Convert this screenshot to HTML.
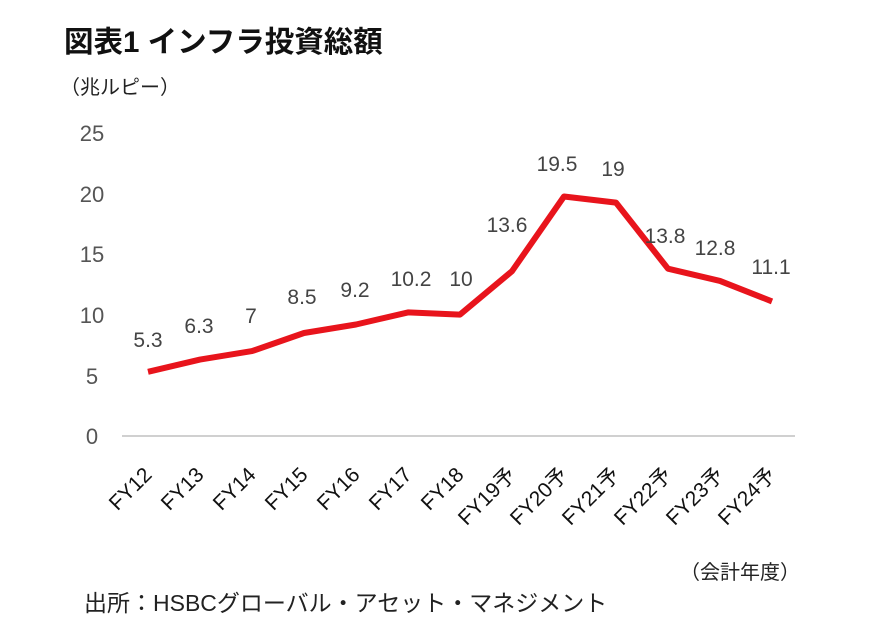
<!DOCTYPE html>
<html><head><meta charset="utf-8"><style>
body{margin:0;background:#fff;}
svg{display:block;}
</style></head><body>
<svg width="870" height="638" xmlns="http://www.w3.org/2000/svg" font-family="Liberation Sans, Noto Sans CJK JP, sans-serif">
<text x="64" y="52" font-size="29.5" font-weight="bold" fill="#111">図表1 インフラ投資総額</text>
<text x="60" y="94" font-size="20" fill="#222">（兆ルピー）</text>
<g font-size="22" fill="#555" text-anchor="middle">
<text x="92" y="141">25</text>
<text x="92" y="202">20</text>
<text x="92" y="262">15</text>
<text x="92" y="323">10</text>
<text x="92" y="384">5</text>
<text x="92" y="444">0</text>
</g>
<line x1="122" y1="436" x2="795" y2="436" stroke="#d0d0d0" stroke-width="2"/>
<polyline fill="none" stroke="#e8141c" stroke-width="6" stroke-linejoin="round"
points="148,371.8 200,359.6 252,351.1 304,333 356,324.5 408,312.4 460,314.6 512,271.2 564,196.5 616,202.6 668,268.7 720,280.9 772,301.4"/>
<g font-size="21" fill="#444" text-anchor="middle">
<text x="148" y="347">5.3</text>
<text x="199" y="333">6.3</text>
<text x="251" y="323">7</text>
<text x="302" y="304">8.5</text>
<text x="355" y="297">9.2</text>
<text x="411" y="286">10.2</text>
<text x="461" y="286">10</text>
<text x="507" y="232">13.6</text>
<text x="557" y="171">19.5</text>
<text x="613" y="176">19</text>
<text x="665" y="243">13.8</text>
<text x="715" y="255">12.8</text>
<text x="771" y="274">11.1</text>
</g>
<g font-size="21" fill="#111" text-anchor="end">
<text transform="translate(153,476) rotate(-45)">FY12</text>
<text transform="translate(205,476) rotate(-45)">FY13</text>
<text transform="translate(257,476) rotate(-45)">FY14</text>
<text transform="translate(309,476) rotate(-45)">FY15</text>
<text transform="translate(361,476) rotate(-45)">FY16</text>
<text transform="translate(413,476) rotate(-45)">FY17</text>
<text transform="translate(465,476) rotate(-45)">FY18</text>
<text transform="translate(517,476) rotate(-45)">FY19予</text>
<text transform="translate(569,476) rotate(-45)">FY20予</text>
<text transform="translate(621,476) rotate(-45)">FY21予</text>
<text transform="translate(673,476) rotate(-45)">FY22予</text>
<text transform="translate(725,476) rotate(-45)">FY23予</text>
<text transform="translate(777,476) rotate(-45)">FY24予</text>
</g>
<text x="680" y="579" font-size="20" fill="#222">（会計年度）</text>
<text x="84" y="611" font-size="23" fill="#222">出所：HSBCグローバル・アセット・マネジメント</text>
</svg>
</body></html>
